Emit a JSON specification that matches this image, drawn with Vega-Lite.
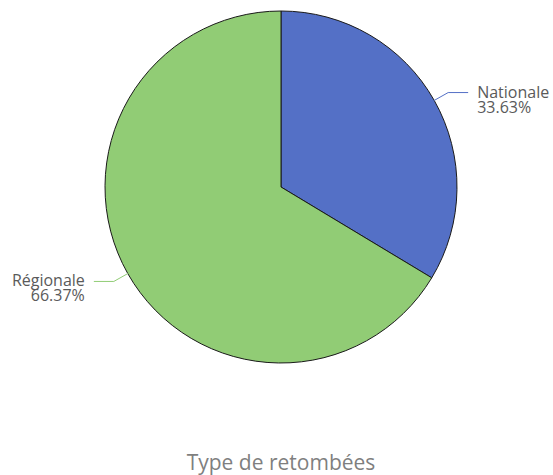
{
  "$schema": "https://vega.github.io/schema/vega-lite/v6.json",
  "width": 544,
  "height": 374,
  "padding": {"left": 9, "top": 0, "right": 0, "bottom": 5},
  "background": "white",
  "config": {"view": {"stroke": null}},
  "title": {
    "text": "Type de retombées",
    "orient": "bottom",
    "anchor": "middle",
    "baseline": "top",
    "offset": 79,
    "fontSize": 21,
    "font": "Open Sans",
    "fontWeight": "normal",
    "color": "#7f7f7f"
  },
  "data": {
    "values": [
      {"type": "Nationale", "value": 33.63},
      {"type": "Régionale", "value": 66.37}
    ]
  },
  "layer": [
    {
      "mark": {"type": "arc", "outerRadius": 176, "stroke": "#1a1a1a", "strokeWidth": 1},
      "encoding": {
        "theta": {"field": "value", "type": "quantitative", "stack": true},
        "color": {
          "field": "type",
          "type": "nominal",
          "scale": {"domain": ["Nationale", "Régionale"], "range": ["#5470c6", "#91cc75"]},
          "legend": null
        },
        "order": {"field": "type", "sort": "ascending"}
      }
    },
    {
      "transform": [
        {"joinaggregate": [{"op": "sum", "field": "value", "as": "total"}]},
        {"stack": "value", "groupby": [], "sort": [{"field": "type", "order": "ascending"}], "as": ["v0", "v1"]},
        {"calculate": "PI*(datum.v0+datum.v1)/datum.total", "as": "mid"},
        {"calculate": "176*sin(datum.mid)", "as": "px0"},
        {"calculate": "176*cos(datum.mid)", "as": "py0"},
        {"calculate": "192*sin(datum.mid)", "as": "px1"},
        {"calculate": "192*cos(datum.mid)", "as": "py1"},
        {"calculate": "datum.px1 + (datum.px1 > 0 ? 20 : -20)", "as": "px2"},
        {"calculate": "datum.px2 + (datum.px1 > 0 ? 9 : -9)", "as": "pxt"},
        {"calculate": "[datum.type, format(datum.value, '.2f') + '%']", "as": "label"}
      ],
      "layer": [
        {
          "mark": {"type": "rule", "strokeWidth": 1},
          "encoding": {
            "x": {"field": "px0", "type": "quantitative", "scale": {"domain": [-272, 272], "nice": false, "zero": false}, "axis": null},
            "y": {"field": "py0", "type": "quantitative", "scale": {"domain": [-187, 187], "nice": false, "zero": false}, "axis": null},
            "x2": {"field": "px1"},
            "y2": {"field": "py1"},
            "color": {"field": "type", "type": "nominal", "legend": null}
          }
        },
        {
          "mark": {"type": "rule", "strokeWidth": 1},
          "encoding": {
            "x": {"field": "px1", "type": "quantitative"},
            "y": {"field": "py1", "type": "quantitative"},
            "x2": {"field": "px2"},
            "color": {"field": "type", "type": "nominal", "legend": null}
          }
        },
        {
          "transform": [{"filter": "datum.px1 > 0"}],
          "mark": {"type": "text", "align": "left", "baseline": "middle", "font": "Open Sans", "fontSize": 16, "lineHeight": 15, "color": "#5a5a5a"},
          "encoding": {
            "x": {"field": "pxt", "type": "quantitative"},
            "y": {"field": "py1", "type": "quantitative"},
            "text": {"field": "label"}
          }
        },
        {
          "transform": [{"filter": "datum.px1 <= 0"}],
          "mark": {"type": "text", "align": "right", "baseline": "middle", "font": "Open Sans", "fontSize": 16, "lineHeight": 15, "color": "#5a5a5a"},
          "encoding": {
            "x": {"field": "pxt", "type": "quantitative"},
            "y": {"field": "py1", "type": "quantitative"},
            "text": {"field": "label"}
          }
        }
      ]
    }
  ]
}
